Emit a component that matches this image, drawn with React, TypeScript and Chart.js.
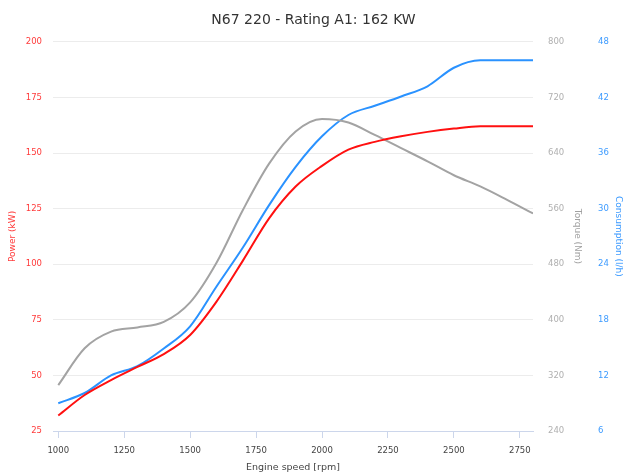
import React, { useEffect, useRef } from "react";
import { Chart, registerables } from "chart.js";

Chart.register(...registerables);

const TITLE = "N67 220 - Rating A1: 162 KW";
const rpm = [1000, 1100, 1200, 1300, 1400, 1500, 1600, 1700, 1800, 1900, 2000, 2100, 2200, 2300, 2400, 2500, 2600, 2700, 2800];
const powerKW = [32, 41.2, 47.9, 53.8, 59.6, 68.2, 83.2, 101.6, 120.7, 134.9, 144.2, 151.5, 155, 157.5, 159.5, 161, 162, 162, 162];
const torqueNm = [306, 359, 383, 389, 397, 425, 482, 558, 625, 671, 689, 684, 666, 647, 628, 608, 592, 573, 553];
const consumptionLh = [9.0, 10.1, 12.0, 13.0, 14.9, 17.3, 21.6, 25.8, 30.4, 34.5, 37.8, 40.1, 41.1, 42.1, 43.2, 45.2, 46, 46, 46];
const xTicks = [1000, 1250, 1500, 1750, 2000, 2250, 2500, 2750];

const FONT = "'DejaVu Sans', sans-serif";

export default function App() {
  const ref = useRef<HTMLCanvasElement | null>(null);
  useEffect(() => {
    if (!ref.current) return;
    const mk = (ys: number[]) => rpm.map((x, i) => ({ x, y: ys[i] }));
    const chart = new Chart(ref.current, {
      type: "line",
      data: {
        datasets: [
          { label: "Power", data: mk(powerKW), yAxisID: "y", borderColor: "#ff1010", borderWidth: 2, pointRadius: 0, cubicInterpolationMode: "monotone", fill: false },
          { label: "Torque", data: mk(torqueNm), yAxisID: "y1", borderColor: "#a3a3a3", borderWidth: 2, pointRadius: 0, cubicInterpolationMode: "monotone", fill: false },
          { label: "Consumption", data: mk(consumptionLh), yAxisID: "y2", borderColor: "#2a92ff", borderWidth: 2, pointRadius: 0, cubicInterpolationMode: "monotone", fill: false },
        ],
      },
      options: {
        responsive: false,
        animation: false,
        layout: { padding: 0 },
        plugins: {
          legend: { display: false },
          tooltip: { enabled: false },
          title: {
            display: true,
            text: TITLE,
            color: "#333333",
            font: { family: FONT, size: 14, weight: "normal" },
            padding: { top: 12, bottom: 13 },
          },
        },
        scales: {
          x: {
            type: "linear",
            min: 980,
            max: 2800,
            afterBuildTicks: (s: any) => { s.ticks = xTicks.map((v) => ({ value: v })); },
            afterFit: (s: any) => { s.height = 42; },
            grid: { drawOnChartArea: false, drawTicks: true, tickLength: 7, color: "#ccd6eb" },
            border: { display: true, color: "#ccd6eb" },
            ticks: { color: "#444444", font: { family: FONT, size: 8.5 }, padding: 8, maxRotation: 0, callback: (v: any) => String(v) },
            title: { display: true, text: "Engine speed [rpm]", color: "#444444", font: { family: FONT, size: 9.5 }, padding: { top: 0, bottom: 0 } },
          },
          y: {
            position: "left",
            min: 25,
            max: 200,
            afterFit: (s: any) => { s.width = 53; },
            grid: { color: "#ececec", drawTicks: false },
            border: { display: false },
            ticks: { stepSize: 25, color: "#ff3b3b", font: { family: FONT, size: 8.5 }, padding: 11, callback: (v: any) => String(v) },
            title: { display: true, text: "Power (kW)", color: "#ff3b3b", font: { family: FONT, size: 9 }, padding: { top: 7, bottom: 0 } },
          },
          y1: {
            position: "right",
            min: 240,
            max: 800,
            afterFit: (s: any) => { s.width = 61; },
            grid: { drawOnChartArea: false, drawTicks: false },
            border: { display: false },
            ticks: { stepSize: 80, color: "#b0b0b0", font: { family: FONT, size: 8.5 }, padding: 15, callback: (v: any) => String(v) },
            title: { display: true, text: "Torque (Nm)", color: "#a0a0a0", font: { family: FONT, size: 9 }, padding: { top: 11, bottom: 0 } },
          },
          y2: {
            position: "right",
            min: 6,
            max: 48,
            afterFit: (s: any) => { s.width = 33; },
            grid: { drawOnChartArea: false, drawTicks: false },
            border: { display: false },
            ticks: { stepSize: 6, color: "#3d9bff", font: { family: FONT, size: 8.5 }, padding: 4, callback: (v: any) => String(v) },
            title: { display: true, text: "Consumption (l/h)", color: "#3d9bff", font: { family: FONT, size: 9 }, padding: { top: 3, bottom: 0 } },
          },
        },
      },
    } as any);
    return () => chart.destroy();
  }, []);
  return (
    <div style={{ position: "absolute", left: 0, top: 0, width: 627, height: 473, background: "#ffffff" }}>
      <canvas ref={ref} width={627} height={473} style={{ display: "block" }} />
    </div>
  );
}
